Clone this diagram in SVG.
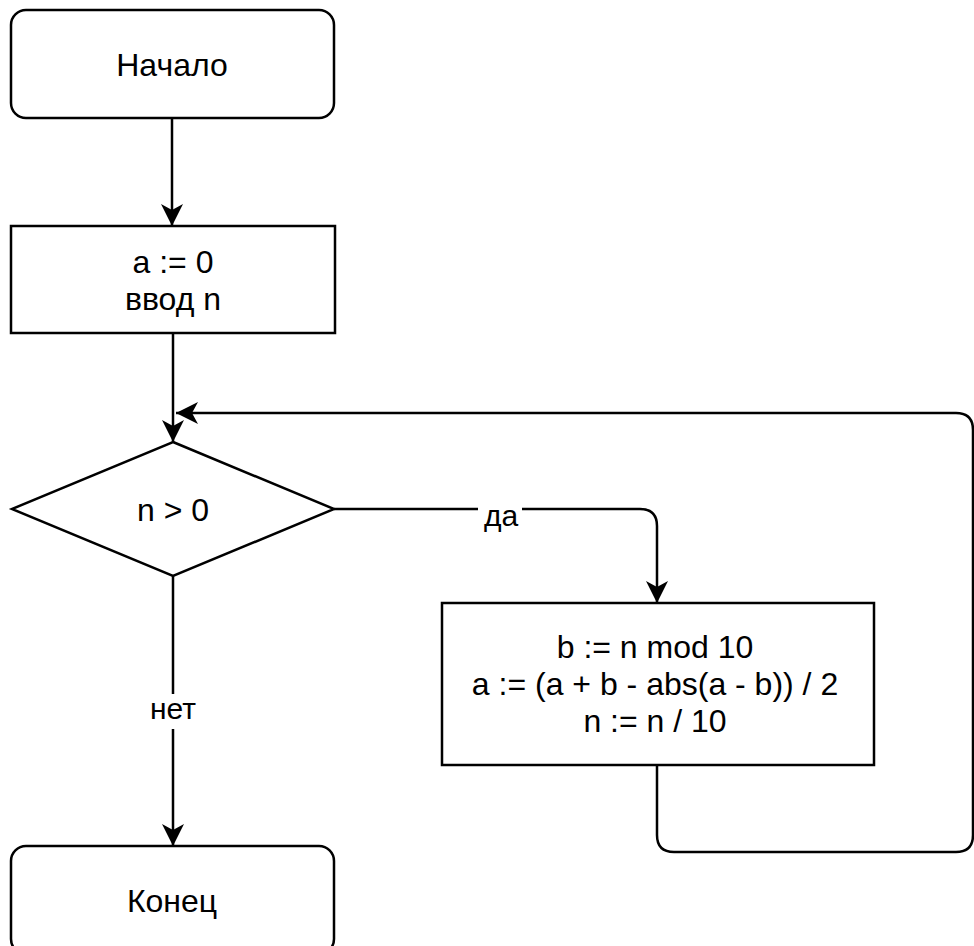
<svg xmlns="http://www.w3.org/2000/svg" width="974" height="946" viewBox="0 0 974 946">
<defs>
<style>
.shape{fill:#fff;stroke:#000;stroke-width:2.5}
.edge{fill:none;stroke:#000;stroke-width:2.5}
.t{font-family:"Liberation Sans",Arial,Helvetica,sans-serif;font-size:32px;fill:#000;text-anchor:middle}
.lbl{font-family:"Liberation Sans",Arial,Helvetica,sans-serif;font-size:30px;fill:#000;text-anchor:middle}
.bg{fill:#fff;stroke:none}
</style>
<marker id="arr" markerUnits="userSpaceOnUse" viewBox="0 0 22 24" refX="22" refY="12" markerWidth="22" markerHeight="24" orient="auto">
<path d="M22 12 L0 1 L6 12 L0 23 Z" fill="#000"/>
</marker>
</defs>
<rect width="974" height="946" fill="#fff"/>
<g id="connectors">
<path class="edge" d="M172 118 V226" marker-end="url(#arr)"/>
<path class="edge" d="M173 333 V442" marker-end="url(#arr)"/>
<path class="edge" d="M334 509 H640 Q657 509 657 526 V603" marker-end="url(#arr)"/>
<path class="edge" d="M173 576 V846" marker-end="url(#arr)"/>
<path class="edge" d="M657 765 V835 Q657 852 674 852 H956 Q973 852 973 835 V430 Q973 413 956 413 H176" marker-end="url(#arr)"/>
<rect class="bg" x="478" y="500" width="44" height="34"/>
<text class="lbl" x="501" y="526">да</text>
<rect class="bg" x="146" y="694" width="54" height="35"/>
<text class="lbl" x="173" y="719">нет</text>
</g>
<g id="start">
<rect class="shape" x="11" y="10" width="323" height="108" rx="15" ry="15"/>
<text class="t" x="172" y="76">Начало</text>
</g>
<g id="init">
<rect class="shape" x="11" y="226" width="324" height="107"/>
<text class="t" x="173" y="273">a := 0</text>
<text class="t" x="173" y="310">ввод n</text>
</g>
<g id="cond">
<polygon class="shape" points="173,442 334,509 173,576 12,509"/>
<text class="t" x="173" y="521">n &gt; 0</text>
</g>
<g id="body">
<rect class="shape" x="442" y="603" width="432" height="162"/>
<text class="t" x="655" y="658">b := n mod 10</text>
<text class="t" x="655" y="695">a := (a + b - abs(a - b)) / 2</text>
<text class="t" x="655" y="732">n := n / 10</text>
</g>
<g id="end">
<rect class="shape" x="11" y="846" width="323" height="108" rx="15" ry="15"/>
<text class="t" x="172" y="912">Конец</text>
</g>
</svg>
